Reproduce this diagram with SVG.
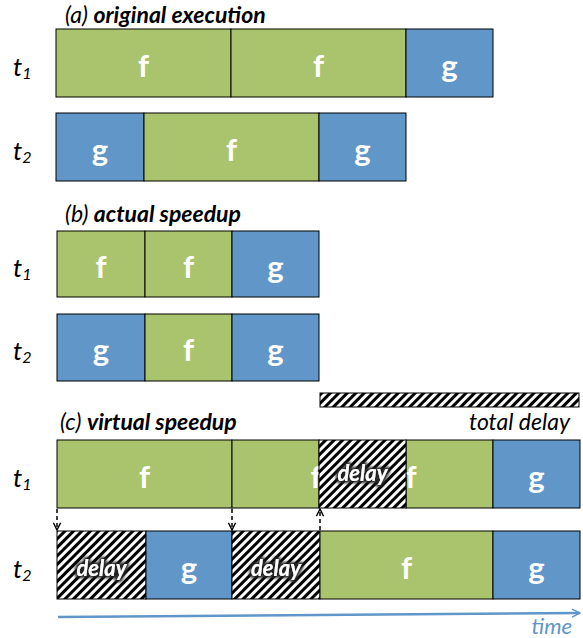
<svg xmlns="http://www.w3.org/2000/svg" width="583" height="638" viewBox="0 0 583 638">
<defs>
<pattern id="hatch" width="6" height="6" patternUnits="userSpaceOnUse" patternTransform="rotate(45)">
<rect width="6" height="6" fill="#fff"/>
<rect width="3" height="6" fill="#000"/>
</pattern>
<filter id="glow" x="-20%" y="-40%" width="140%" height="180%">
<feMorphology in="SourceAlpha" operator="dilate" radius="1.5" result="d"/>
<feGaussianBlur in="d" stdDeviation="1.5" result="b"/>
<feFlood flood-color="#222"/>
<feComposite in2="b" operator="in" result="s"/>
<feMerge><feMergeNode in="s"/><feMergeNode in="SourceGraphic"/></feMerge>
</filter>
<marker id="ah" viewBox="0 0 10 10" refX="9" refY="5" markerWidth="9" markerHeight="9" orient="auto" markerUnits="userSpaceOnUse">
<path d="M1,1 L9,5 L1,9" fill="none" stroke="#000" stroke-width="1.6"/>
</marker>
<marker id="ta" viewBox="0 0 10 10" refX="9" refY="5" markerWidth="10" markerHeight="10" orient="auto" markerUnits="userSpaceOnUse">
<path d="M1,1 L9,5 L1,9" fill="none" stroke="#6096c8" stroke-width="1.5"/>
</marker>
</defs>
<style>
.f{fill:#a9c46c;stroke:#000;stroke-width:1}
.g{fill:#6096c8;stroke:#000;stroke-width:1}
.d{fill:url(#hatch);stroke:#000;stroke-width:1}
.lb{font-family:Lato,"Liberation Sans",sans-serif;font-weight:bold;font-size:31px;fill:#fff;text-anchor:middle}
.dl{font-family:Lato,"Liberation Sans",sans-serif;font-weight:bold;font-style:italic;font-size:22px;fill:#fff;text-anchor:middle;filter:url(#glow)}
.ti{font-family:Lato,"Liberation Sans",sans-serif;font-style:italic;font-size:23px;fill:#000}
.tb{font-weight:bold}
.tl{font-family:Lato,"Liberation Sans",sans-serif;font-style:italic;font-size:26px;fill:#000}
.sub{font-size:16px}
.conn{stroke:#000;stroke-width:1.5;stroke-dasharray:4,3;fill:none}
</style>
<g id="titles">
<text class="ti" x="65" y="23">(a) <tspan class="tb">original execution</tspan></text>
<text class="ti" x="65" y="222">(b) <tspan class="tb">actual speedup</tspan></text>
<text class="ti" x="60" y="430">(c) <tspan class="tb">virtual speedup</tspan></text>
</g>
<g id="thread-labels">
<text class="tl" x="13" y="76">t<tspan class="sub" dy="3">1</tspan></text>
<text class="tl" x="13" y="160">t<tspan class="sub" dy="3">2</tspan></text>
<text class="tl" x="13" y="277">t<tspan class="sub" dy="3">1</tspan></text>
<text class="tl" x="13" y="360">t<tspan class="sub" dy="3">2</tspan></text>
<text class="tl" x="13" y="487">t<tspan class="sub" dy="3">1</tspan></text>
<text class="tl" x="13" y="578">t<tspan class="sub" dy="3">2</tspan></text>
</g>
<g id="a-t1">
<rect class="f" x="56" y="29" width="175" height="68"/><text class="lb" x="143.5" y="77">f</text>
<rect class="f" x="231" y="29" width="175" height="68"/><text class="lb" x="318.5" y="77">f</text>
<rect class="g" x="406" y="29" width="87" height="68"/><text class="lb" x="449.5" y="77">g</text>
</g>
<g id="a-t2">
<rect class="g" x="56" y="113" width="88" height="68"/><text class="lb" x="100" y="161">g</text>
<rect class="f" x="144" y="113" width="175" height="68"/><text class="lb" x="231.5" y="161">f</text>
<rect class="g" x="319" y="113" width="87" height="68"/><text class="lb" x="362.5" y="161">g</text>
</g>
<g id="b-t1">
<rect class="f" x="57" y="231" width="88" height="66"/><text class="lb" x="101" y="278">f</text>
<rect class="f" x="145" y="231" width="87" height="66"/><text class="lb" x="188.5" y="278">f</text>
<rect class="g" x="232" y="231" width="87" height="66"/><text class="lb" x="275.5" y="278">g</text>
</g>
<g id="b-t2">
<rect class="g" x="57" y="314" width="88" height="67"/><text class="lb" x="101" y="361">g</text>
<rect class="f" x="145" y="314" width="87" height="67"/><text class="lb" x="188.5" y="361">f</text>
<rect class="g" x="232" y="314" width="87" height="67"/><text class="lb" x="275.5" y="361">g</text>
</g>
<g id="total-delay">
<rect class="d" x="320" y="393" width="259" height="14"/>
<text class="ti" x="570" y="430" text-anchor="end">total delay</text>
</g>
<g id="c-t1">
<rect class="f" x="57" y="440" width="175" height="68"/><text class="lb" x="144.5" y="488">f</text>
<rect class="f" x="232" y="440" width="87" height="68"/><text class="lb" x="316" y="488">f</text>
<rect class="f" x="406" y="440" width="87" height="68"/><text class="lb" x="411" y="488">f</text>
<rect class="d" x="319" y="440" width="87" height="68"/><text class="dl" x="362.5" y="481">delay</text>
<rect class="g" x="493" y="440" width="87" height="68"/><text class="lb" x="536.5" y="488">g</text>
</g>
<g id="c-t2">
<rect class="d" x="57" y="531" width="89" height="68"/><text class="dl" x="101.5" y="576">delay</text>
<rect class="g" x="146" y="531" width="86" height="68"/><text class="lb" x="189" y="579">g</text>
<rect class="d" x="232" y="531" width="88" height="68"/><text class="dl" x="276" y="576">delay</text>
<rect class="f" x="320" y="531" width="173" height="68"/><text class="lb" x="406.5" y="579">f</text>
<rect class="g" x="493" y="531" width="87" height="68"/><text class="lb" x="536.5" y="579">g</text>
</g>
<g id="connectors">
<line class="conn" x1="57" y1="509" x2="57" y2="530" marker-end="url(#ah)"/>
<line class="conn" x1="232" y1="509" x2="232" y2="530" marker-end="url(#ah)"/>
<line class="conn" x1="320" y1="530" x2="320" y2="509" marker-end="url(#ah)"/>
<line x1="58" y1="617" x2="580" y2="613" stroke="#6096c8" stroke-width="2.5" marker-end="url(#ta)"/>
<text x="572" y="634" text-anchor="end" font-family="Lato,'Liberation Sans',sans-serif" font-style="italic" font-size="22" fill="#6096c8">time</text>
</g>
</svg>
